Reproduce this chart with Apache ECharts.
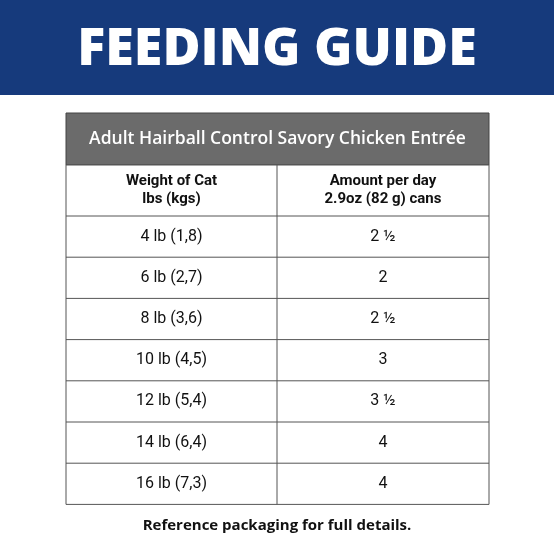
<!DOCTYPE html>
<html><head><meta charset="utf-8">
<script src="https://cdn.jsdelivr.net/npm/echarts@6/dist/echarts.min.js"></script>
<style>html,body{margin:0;padding:0;background:#fff}#c{width:554px;height:554px}</style>
</head><body><div id="c"></div>
<script>
const title = "FEEDING GUIDE";
const productName = "Adult Hairball Control Savory Chicken Entrée";
const colHeaders = ["Weight of Cat\nlbs (kgs)", "Amount per day\n2.9oz (82 g) cans"];
const weights = ["4 lb (1,8)","6 lb (2,7)","8 lb (3,6)","10 lb (4,5)","12 lb (5,4)","14 lb (6,4)","16 lb (7,3)"];
const amounts = ["2 ½","2","2 ½","3","3 ½","4","4"];
const footer = "Reference packaging for full details.";

const chart = echarts.init(document.getElementById('c'), null, {renderer:'canvas'});
const L = 66, R = 489, MID = 277, T = 113, HDR = 165, COLH = 216, ROWH = 41.2;
const font = "Roboto, 'Open Sans', sans-serif";
const wide = "'Open Sans', Roboto, sans-serif";
const g = [];
g.push({type:'rect', shape:{x:0,y:0,width:554,height:95}, style:{fill:'#163a7c'}});
g.push({type:'text', x:277, y:50, style:{text:title, fill:'#fff', font:"800 52px "+wide, align:'center', verticalAlign:'middle'}});
g.push({type:'rect', shape:{x:L,y:T,width:R-L,height:HDR-T}, style:{fill:'#6b6b6b', stroke:'#444', lineWidth:1}});
g.push({type:'text', x:(L+R)/2, y:(T+HDR)/2, style:{text:productName, fill:'#fff', font:"600 17.5px "+wide, align:'center', verticalAlign:'middle'}});
const bottom = COLH + ROWH*weights.length;
g.push({type:'rect', shape:{x:L,y:HDR,width:R-L,height:bottom-HDR}, style:{fill:'#fff', stroke:'#555', lineWidth:1}});
g.push({type:'line', shape:{x1:MID,y1:HDR,x2:MID,y2:bottom}, style:{stroke:'#555', lineWidth:1}});
g.push({type:'line', shape:{x1:L,y1:COLH,x2:R,y2:COLH}, style:{stroke:'#555', lineWidth:1}});
const cx = [(L+MID)/2, (MID+R)/2];
colHeaders.forEach((h,i)=>g.push({type:'text', x:cx[i], y:(HDR+COLH)/2, style:{text:h, fill:'#111', font:"bold 15px "+font, align:'center', verticalAlign:'middle', lineHeight:18}}));
weights.forEach((w,i)=>{
  const y0 = COLH + ROWH*i;
  if(i>0) g.push({type:'line', shape:{x1:L,y1:y0,x2:R,y2:y0}, style:{stroke:'#555', lineWidth:1}});
  g.push({type:'text', x:cx[0], y:y0+ROWH/2, style:{text:w, fill:'#111', font:"16px "+font, align:'center', verticalAlign:'middle'}});
  g.push({type:'text', x:cx[1], y:y0+ROWH/2, style:{text:amounts[i], fill:'#111', font:"16px "+font, align:'center', verticalAlign:'middle'}});
});
g.push({type:'text', x:277, y:526, style:{text:footer, fill:'#111', font:"bold 15px "+wide, align:'center', verticalAlign:'middle'}});
chart.setOption({animation:false, graphic:g});
</script></body></html>
